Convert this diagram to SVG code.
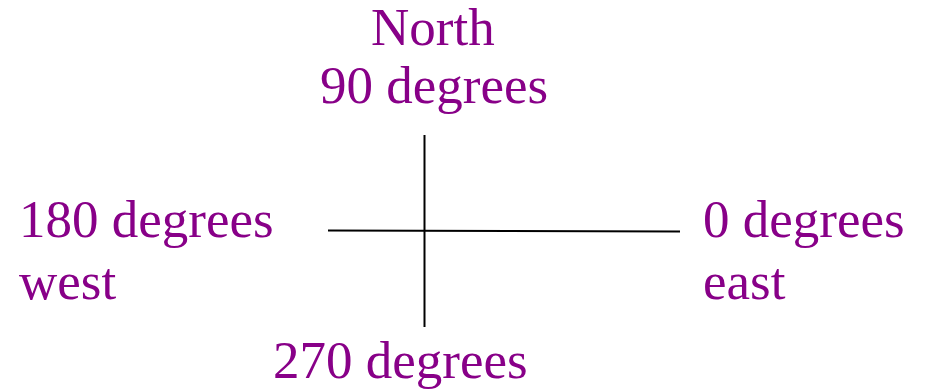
<svg xmlns="http://www.w3.org/2000/svg" width="925" height="390" viewBox="0 0 925 390">
<style>
.t{font-family:"Liberation Serif","Times New Roman",serif;font-size:53px;fill:#880088}
.ln{stroke:#000;stroke-width:2;fill:none}
</style>
<rect width="925" height="390" fill="#fff"/>
<g id="axes">
<line class="ln" x1="424.5" y1="135" x2="424.5" y2="327"/>
<line class="ln" x1="328" y1="230.5" x2="680" y2="231.5"/>
</g>
<g id="north"><text class="t" x="371" y="45">North</text><text class="t" x="320" y="103">90 degrees</text></g>
<g id="west"><text class="t" x="19" y="237">180 degrees</text><text class="t" x="19" y="299">west</text></g>
<g id="east"><text class="t" x="703" y="237">0 degrees</text><text class="t" x="703" y="299">east</text></g>
<g id="south"><text class="t" x="273" y="378">270 degrees</text></g>
</svg>
